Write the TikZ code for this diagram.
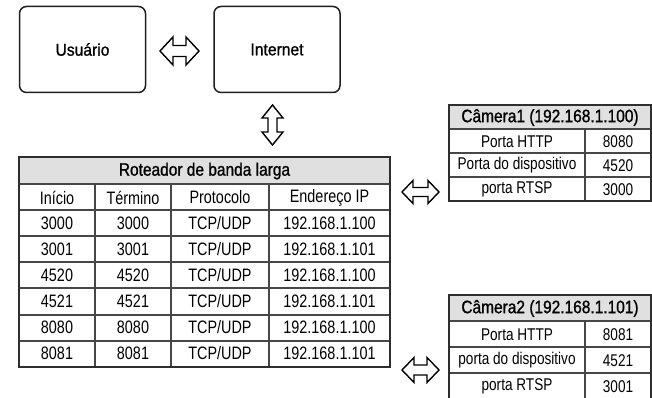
\documentclass[tikz,border=0pt]{standalone}
\usepackage{fontspec}
\setmainfont{Liberation Sans}[FakeStretch=0.8]
\newfontfamily\hdfont{Liberation Sans}[FakeStretch=0.86,FakeBold=1.1]
\newfontfamily\bxfont{Liberation Sans}[FakeStretch=0.92,FakeBold=1.1]
\newcommand\dblarr[7]{% cx cy L H S K rotate
  \draw[outarrow,shift={(#1,#2)},rotate=#7]
    (-#3,0) -- (-#3+#6,-#4) -- (-#3+#6,-#5) -- (#3-#6,-#5) -- (#3-#6,-#4) -- (#3,0)
    -- (#3-#6,#4) -- (#3-#6,#5) -- (-#3+#6,#5) -- (-#3+#6,#4) -- cycle;}
\begin{document}
\begin{tikzpicture}[x=1pt,y=-1pt,
  rbox/.style={draw=black!88, line width=1.5pt, rounded corners=7pt, fill=white,
    minimum width=126pt, minimum height=86pt, inner sep=0pt,
    font=\bxfont\fontsize{17}{17}\selectfont},
  hdr/.style={fill=black!12},
  tline/.style={draw=black!72, line width=1.1pt},
  tborder/.style={draw=black!82, line width=1.5pt},
  cell/.style={inner sep=0pt, font=\fontsize{18}{18}\selectfont},
  ccell/.style={inner sep=0pt, font=\fontsize{17}{17}\selectfont},
  hcell/.style={inner sep=0pt, font=\hdfont\fontsize{18}{18}\selectfont},
  outarrow/.style={draw=black, line width=1.4pt, fill=white, line join=miter}]
\useasboundingbox (0,0) rectangle (652,398);
\fill[white] (0,0) rectangle (652,398);

% top boxes
\node[rbox] (user) at (82.5,49.5) {Usuário};
\node[rbox] (net) at (277,49.5) {Internet};

% arrows
\dblarr{179.5}{51}{19.5}{14}{5.5}{13}{0}
\dblarr{272.5}{125}{20}{10.5}{4.5}{13}{90}
\dblarr{420.5}{192}{18.5}{11.5}{4.5}{11}{0}
\dblarr{420.5}{370}{18.5}{12.5}{5}{12}{0}

% main table
\fill[hdr] (19,157) rectangle (390,184);
\foreach \yy in {184,210,236,262,288,315,341} \draw[tline] (19,\yy) -- (390,\yy);
\foreach \xx in {95,171,269} \draw[tline] (\xx,184) -- (\xx,367);
\draw[tborder] (19,157) rectangle (390,367);
\node[hcell] (rt) at (204.5,171) {Roteador de banda larga};
\node[cell] (h1) at (57,197.5) {Início};
\node[cell] (h2) at (133,197.5) {Término};
\node[cell] (h3) at (220,197.5) {Protocolo};
\node[cell] (h4) at (329.5,197.5) {Endereço IP};
\foreach \p/\ip [count=\i] in {3000/100,3001/101,4520/100,4521/101,8080/100,8081/101}{
  \pgfmathsetmacro\cy{223+26.1*(\i-1)}
  \node[cell] (s\i) at (57,\cy) {\p};
  \node[cell] (e\i) at (133,\cy) {\p};
  \node[cell] (p\i) at (220,\cy) {TCP/UDP};
  \node[cell] (a\i) at (329.5,\cy) {192.168.1.\ip};
}

% camera 1
\fill[hdr] (449,105) rectangle (651,129);
\foreach \yy in {129,153,177} \draw[tline] (449,\yy) -- (651,\yy);
\draw[tline] (585,129) -- (585,201);
\draw[tborder] (449,105) rectangle (651,201);
\node[hcell] (c1h) at (550,117.5) {Câmera1 (192.168.1.100)};
\node[ccell] (c1a) at (517,141.5) {Porta HTTP};
\node[ccell] (c1b) at (618,141.5) {8080};
\node[ccell] (c1c) at (517,165.5) {Porta do dispositivo};
\node[ccell] (c1d) at (618,165.5) {4520};
\node[ccell] (c1e) at (517,189.5) {porta RTSP};
\node[ccell] (c1f) at (618,189.5) {3000};

% camera 2
\fill[hdr] (449,295) rectangle (651,321);
\foreach \yy in {321,347,373} \draw[tline] (449,\yy) -- (651,\yy);
\draw[tline] (585,321) -- (585,398);
\draw[tborder] (449,398) -- (449,295) -- (651,295) -- (651,398);
\node[hcell] (c2h) at (550,308.5) {Câmera2 (192.168.1.101)};
\node[ccell] (c2a) at (517,334.5) {Porta HTTP};
\node[ccell] (c2b) at (618,334.5) {8081};
\node[ccell] (c2c) at (517,360.5) {porta do dispositivo};
\node[ccell] (c2d) at (618,360.5) {4521};
\node[ccell] (c2e) at (517,386.5) {porta RTSP};
\node[ccell] (c2f) at (618,386.5) {3001};
\end{tikzpicture}
\end{document}
